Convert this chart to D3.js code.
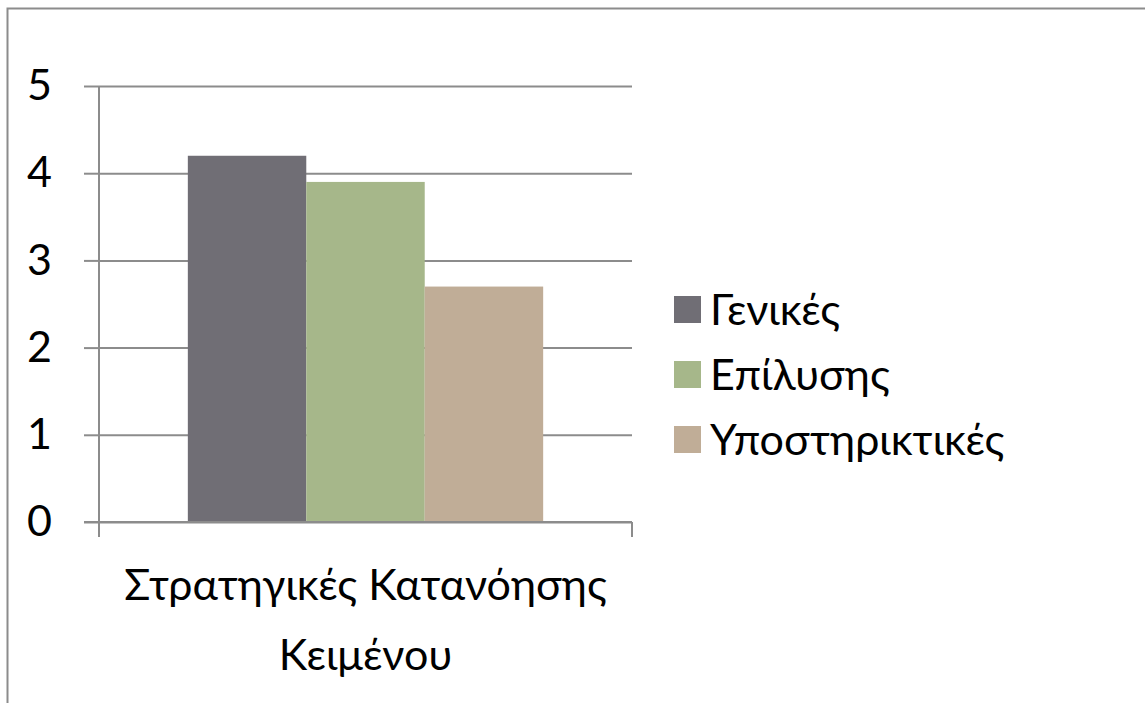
<!DOCTYPE html>
<html>
<head>
<meta charset="utf-8">
<script src="https://cdn.jsdelivr.net/npm/d3@7"></script>
<style>
body{margin:0;background:#fff;}
text{font-family:Lato,"Open Sans",sans-serif;fill:#000;}
</style>
</head>
<body>
<svg width="1145" height="703"></svg>
<script>
// chart data
var categories = ['Στρατηγικές Κατανόησης Κειμένου'];
var series = ['Γενικές', 'Επίλυσης', 'Υποστηρικτικές'];
var values = [4.2, 3.9, 2.7];
var colors = ['#706e75', '#a6b78a', '#c0ad97'];
var yTicks = [0, 1, 2, 3, 4, 5];

var svg = d3.select('svg');
var fs = '43px';

// outer frame (right / bottom edges fall off the picture)
svg.append('rect').attr('x', 7.5).attr('y', 8.5).attr('width', 1200).attr('height', 760)
  .attr('fill', 'none').attr('stroke', '#8c8c8c').attr('stroke-width', 2);

var pLeft = 99, pRight = 632, pTop = 86, pBottom = 522;

var y = d3.scaleLinear().domain([0, 5]).range([pBottom, pTop]);
var x0 = d3.scaleBand().domain(categories).range([pLeft, pRight]);
// excel gap width 150% -> 0.75 bar width on each side
var gap = x0.bandwidth() * 0.75 / 4.5;
var x1 = d3.scaleBand().domain(series).range([gap, x0.bandwidth() - gap]);

// gridlines
var grid = d3.axisLeft(y).tickValues(yTicks).tickSize(-(pRight - pLeft)).tickFormat('');
svg.append('g').attr('transform', 'translate(' + pLeft + ',0)').call(grid)
  .call(function(g){ g.select('.domain').remove(); })
  .selectAll('line').attr('stroke', '#8c8c8c').attr('stroke-width', 2);

// y axis with outside ticks
var yAxis = d3.axisLeft(y).tickValues(yTicks).tickSize(15).tickPadding(32).tickFormat(d3.format('d'));
var ya = svg.append('g').attr('transform', 'translate(' + pLeft + ',0)').call(yAxis);
ya.select('.domain').remove();
ya.selectAll('line').attr('stroke', '#8c8c8c').attr('stroke-width', 2);
ya.selectAll('text').style('font-size', fs).attr('font-family', 'Lato,"Open Sans",sans-serif').attr('fill', '#000');
svg.append('line').attr('x1', pLeft).attr('x2', pLeft).attr('y1', pTop).attr('y2', pBottom + 15)
  .attr('stroke', '#8c8c8c').attr('stroke-width', 2);

// bars
svg.append('g').selectAll('rect').data(values).join('rect')
  .attr('x', function(d, i){ return x0(categories[0]) + x1(series[i]); })
  .attr('y', function(d){ return y(d); })
  .attr('width', x1.bandwidth())
  .attr('height', function(d){ return y(0) - y(d); })
  .attr('fill', function(d, i){ return colors[i]; });

// x axis baseline + ticks at category edges
var xa = svg.append('g');
xa.append('line').attr('x1', pLeft - 15).attr('x2', pRight).attr('y1', pBottom).attr('y2', pBottom)
  .attr('stroke', '#8c8c8c').attr('stroke-width', 2);
xa.append('line').attr('x1', pRight).attr('x2', pRight).attr('y1', pBottom).attr('y2', pBottom + 15)
  .attr('stroke', '#8c8c8c').attr('stroke-width', 2);

// category label on two lines
var cx = x0(categories[0]) + x0.bandwidth() / 2;
var lab = svg.append('text').attr('x', cx).attr('y', 600).attr('text-anchor', 'middle').style('font-size', fs);
lab.append('tspan').attr('x', cx).text('Στρατηγικές Κατανόησης');
lab.append('tspan').attr('x', cx).attr('dy', 70).text('Κειμένου');

// legend
var lg = svg.append('g').selectAll('g').data(series).join('g')
  .attr('transform', function(d, i){ return 'translate(674,' + (296 + i * 65) + ')'; });
lg.append('rect').attr('width', 27).attr('height', 27).attr('fill', function(d, i){ return colors[i]; });
lg.append('text').attr('x', 36).attr('y', 14).attr('dy', '0.35em').style('font-size', fs).text(function(d){ return d; });
</script>
</body>
</html>
